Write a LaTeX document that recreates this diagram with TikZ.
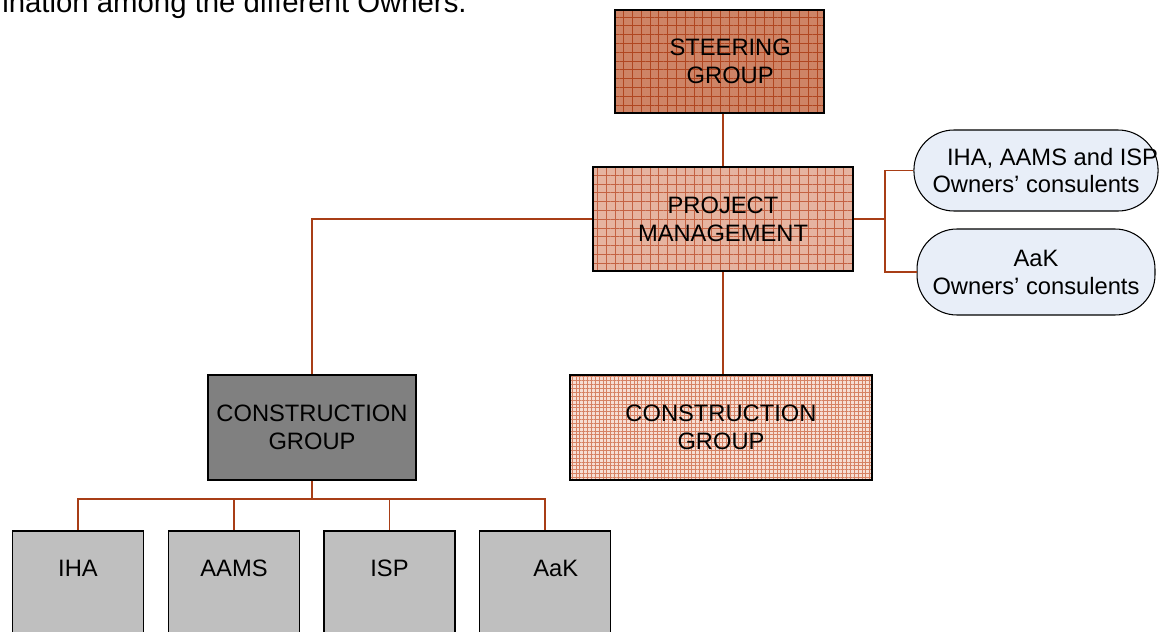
\documentclass[tikz,border=0pt]{standalone}
\usepackage{fontspec}
\setmainfont{Liberation Sans}
\usetikzlibrary{positioning,patterns.meta}
\definecolor{linkbrown}{RGB}{168,62,22}
\definecolor{steerfill}{RGB}{206,132,102}
\definecolor{steergrid}{RGB}{176,70,32}
\definecolor{pmfill}{RGB}{230,180,160}
\definecolor{pmgrid}{RGB}{196,98,66}
\definecolor{cgfill}{RGB}{246,222,212}
\definecolor{cggrid}{RGB}{214,130,100}
\definecolor{consfill}{RGB}{232,238,248}
\tikzset{
    box/.style={draw=black, line width=1.1pt, align=center, inner sep=0pt,
        font=\fontsize{13.5}{15.9}\selectfont},
    hatched/.style n args={3}{fill=#1,
        postaction={pattern={Lines[angle=0,distance=#3,line width=0.45pt]}, pattern color=#2},
        postaction={pattern={Lines[angle=90,distance=#3,line width=0.45pt]}, pattern color=#2},
        postaction={draw=black, line width=1.1pt}},
    lowbox/.style={box, fill=gray!50, anchor=north, minimum width=2.62cm,
        text height=0.92cm, text depth=2cm},
    consbox/.style={box, fill=consfill, line width=0.6pt, rounded corners=0.8cm,
        minimum width=4.76cm},
    link/.style={draw=linkbrown, line width=1pt}
}
\begin{document}
\begin{tikzpicture}[x=0.02cm, y=-0.02cm]
        % Fix the page
        \useasboundingbox (0,0) rectangle (1160,632);
        % Draw cut text at the top
        \node[anchor=base east, inner sep=0pt, font=\fontsize{16.7}{20}\selectfont] (intro) at (467,12) {ination among the different Owners.};
        % Draw the boxes
        \node[box, hatched={steerfill}{steergrid}{5pt}, minimum width=4.18cm, minimum height=2.06cm] (steer) at (719.5,61.5) {\hspace*{0.9em}STEERING\\\hspace*{0.9em}GROUP};
        \node[box, hatched={pmfill}{pmgrid}{5pt}, minimum width=5.2cm, minimum height=2.08cm] (pm) at (723,219) {PROJECT\\MANAGEMENT};
        \node[box, fill=gray, minimum width=4.16cm, minimum height=2.1cm] (cgleft) at (312,427.5) {CONSTRUCTION\\GROUP};
        \node[box, hatched={cgfill}{cggrid}{2.2pt}, minimum width=6.04cm, minimum height=2.1cm] (cgright) at (721,427.5) {CONSTRUCTION\\GROUP};
        % Draw the consultants
        \node[consbox, minimum height=1.62cm] (consa) at (1036,170.5) {\hspace*{1.4em}IHA, AAMS and ISP\\Owners’ consulents};
        \node[consbox, minimum height=1.72cm] (consb) at (1036,272) {AaK\\Owners’ consulents};
        % Draw the owners
        \node[lowbox] (iha) at (78,530) {IHA};
        \node[lowbox] (aams) at (234,530) {AAMS};
        \node[lowbox] (isp) at (389.5,530) {ISP};
        \node[lowbox] (aak) at (545,530) {\hspace*{0.9em}AaK};
        % Draw the links
        \coordinate (bus) at (312,499);
        \coordinate (side) at (885,219);
        \draw[link] (steer.south -| pm.north) -- (pm.north);
        \draw[link] (pm.west) -| (cgleft.north);
        \draw[link] (pm.south) -- (pm.south |- cgright.north);
        \draw[link] (pm.east) -- (side);
        \draw[link] (consa.west) -| (side) |- (consb.west);
        \draw[link] (cgleft.south) -- (bus);
        \draw[link] (iha.north) |- (bus) -| (aak.north);
        \draw[link] (aams.north) -- (aams.north |- bus);
        \draw[link] (isp.north) -- (isp.north |- bus);
    \end{tikzpicture}
\end{document}
